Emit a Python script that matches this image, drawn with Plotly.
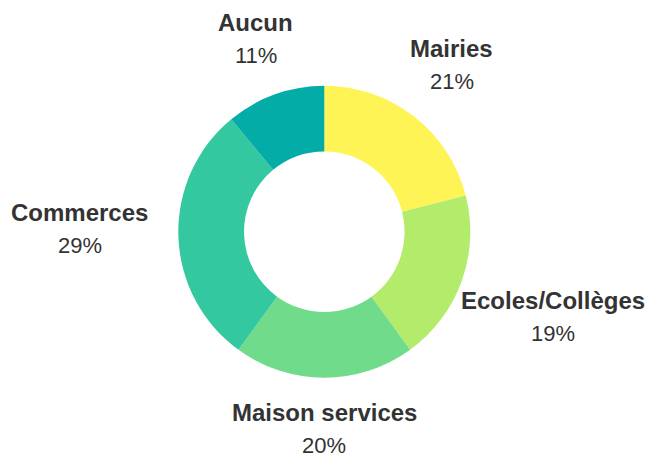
import math
import plotly.graph_objects as go

# Data
labels = ["Mairies", "Ecoles/Collèges", "Maison services", "Commerces", "Aucun"]
values = [21, 19, 20, 29, 11]
colors = ["#FEF455", "#B3EC6B", "#6FDB8B", "#34C8A0", "#04ACA8"]

W, H = 653, 457
OFF = 8  # page body margin
cx, cy, R = 324.3 - OFF, 231.7 - OFF, 146  # pie centre / radius in px
hole = 0.55
label_size = 24
pct_size = 22

# rough bold text widths (Arial-like metrics, per 1000 em)
char_w = {"A": 722, "C": 722, "E": 667, "M": 833, "a": 556, "c": 556, "e": 556,
          "g": 611, "i": 278, "l": 278, "m": 889, "n": 611, "o": 611, "r": 389,
          "s": 556, "u": 611, "v": 556, "è": 556, "/": 278, " ": 278}


def text_width(s, size):
    return sum(char_w.get(ch, 600) for ch in s) * size / 1000


fig = go.Figure()
fig.add_trace(
    go.Pie(
        labels=labels,
        values=values,
        hole=hole,
        sort=False,
        direction="clockwise",
        rotation=0,
        marker=dict(colors=colors, line=dict(width=0)),
        textinfo="none",
        hoverinfo="skip",
        showlegend=False,
        domain=dict(x=[(cx - R) / W, (cx + R) / W], y=[1 - (cy + R) / H, 1 - (cy - R) / H]),
    )
)

# labels placed outside the ring, box edge ~170px from centre
total = sum(values)
cum = 0
annotations = []
for lab, v in zip(labels, values):
    mid = (cum + v / 2) / total * 2 * math.pi
    cum += v
    s, c = math.sin(mid), math.cos(mid)
    tw = max(text_width(lab, label_size), 45)
    half_w = tw / 2 + 6
    half_h = 30
    t = min(half_w / abs(s) if abs(s) > 1e-6 else 1e9, half_h / abs(c) if abs(c) > 1e-6 else 1e9)
    r = 170 + t
    px = cx + r * s
    py = cy - r * c if abs(s) < 0.99 else cy
    px = min(max(px, tw / 2 + 5 - OFF), W - OFF - tw / 2 - 8)
    pct = f"{round(v / total * 100)}%"
    annotations.append(dict(x=px / W, y=1 - py / H, xref="paper", yref="paper",
                            xanchor="center", yanchor="middle",
                            text=f"<b>{lab}</b>", showarrow=False, yshift=19,
                            font=dict(size=label_size, color="#333333")))
    annotations.append(dict(x=px / W, y=1 - py / H, xref="paper", yref="paper",
                            xanchor="center", yanchor="middle",
                            text=pct, showarrow=False, yshift=-14,
                            font=dict(size=pct_size, color="#333333")))

fig.update_layout(
    width=W,
    height=H,
    margin=dict(l=0, r=0, t=0, b=0),
    paper_bgcolor="white",
    plot_bgcolor="white",
    font=dict(family="Liberation Sans, Arial, sans-serif", color="#333333"),
    annotations=annotations,
)

fig.write_html("out.html")
